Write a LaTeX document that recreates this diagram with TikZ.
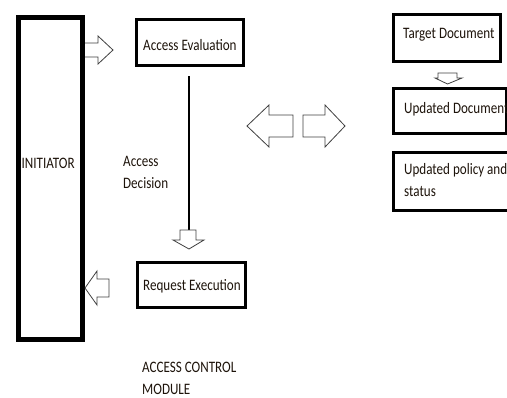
\documentclass[tikz,border=0pt]{standalone}
\usepackage{fontspec}
\setmainfont{Carlito}[FakeStretch=0.82]
\begin{document}
\begin{tikzpicture}[x=1bp,y=-1bp,
  box/.style={draw=black,line width=3bp},
  bigbox/.style={draw=black,line width=5bp},
  blockarrow/.style={draw=black!75,line width=0.8bp,fill=white,line join=miter},
  lbl/.style={font=\fontsize{16}{19}\selectfont,inner sep=0pt,anchor=base west,text=black!85!brown}]
\useasboundingbox (0,0) rectangle (507,397);
\clip (0,0) rectangle (507,397);

% boxes
\draw[bigbox] (18,17.5) rectangle (82.5,339.5);
\draw[box] (136.5,19.5) rectangle (243.5,65.5);
\draw[box] (137.5,262.5) rectangle (245.5,307.5);
\draw[box] (393.5,14.5) rectangle (500.5,61.5);
\draw[box] (393.5,88.5) rectangle (506,133.5);
\draw[box] (393.5,152.5) rectangle (509,210.5);

% ends of the decision line
\coordinate (evalS) at (189,76);
\coordinate (decE) at (189,230);

% labels
\node[lbl] (tinit) at (21.5,168) {INITIATOR};
\node[lbl] (teval) at (143,50) {Access Evaluation};
\node[lbl] (texec) at (143,290) {Request Execution};
\node[lbl] (tdec1) at (123,166) {Access};
\node[lbl] (tdec2) at (123,188) {Decision};
\node[lbl] (ttgt) at (403,38) {Target Document};
\node[lbl] (tupd) at (404,113) {Updated Document};
\node[lbl] (tpol1) at (404,174) {Updated policy and};
\node[lbl] (tpol2) at (404,196) {status};
\node[lbl] (tmod1) at (142,372) {ACCESS CONTROL};
\node[lbl] (tmod2) at (142,394) {MODULE};

% decision line
\draw[line width=1.2bp] (evalS) -- (decE);

% block arrows
\draw[blockarrow] (85,43) -- (98,43) -- (98,36) -- (113,50) -- (98,64) -- (98,57) -- (85,57);
\draw[blockarrow] (180,230) -- (196,230) -- (196,240) -- (204,240) -- (189,249) -- (173,240) -- (180,240) -- cycle;
\draw[blockarrow] (109,279) -- (97,279) -- (97,271) -- (85,288) -- (97,305) -- (97,297) -- (109,297) -- cycle;
\draw[blockarrow] (293,115) -- (269,115) -- (269,105) -- (247,126) -- (269,147) -- (269,137) -- (293,137) -- cycle;
\draw[blockarrow] (303,115) -- (325,115) -- (325,105) -- (345,126) -- (325,147) -- (325,137) -- (303,137) -- cycle;
\draw[blockarrow] (438,73) -- (457,73) -- (457,78) -- (462,78) -- (447.5,84) -- (435,78) -- (438,78) -- cycle;
\end{tikzpicture}
\end{document}
